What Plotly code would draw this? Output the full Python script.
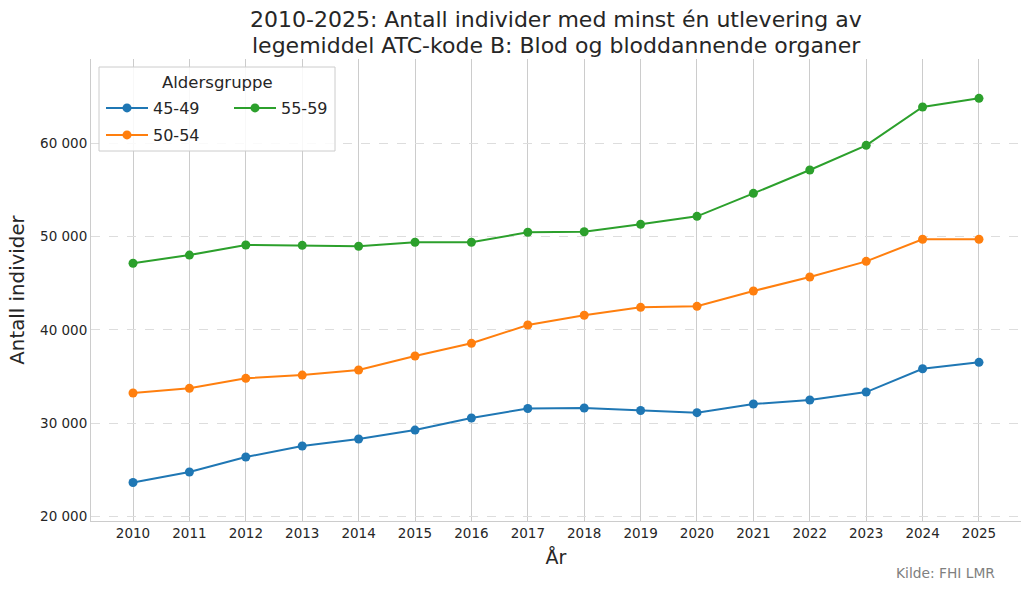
import plotly.graph_objects as go

years = list(range(2010, 2026))
serie_45_49 = [23640, 24770, 26370, 27550, 28300, 29260, 30550, 31570, 31620, 31350, 31120, 32050, 32480, 33330, 35830, 36510]
serie_50_54 = [33230, 33730, 34800, 35150, 35690, 37190, 38550, 40510, 41550, 42400, 42510, 44150, 45650, 47330, 49690, 49690]
serie_55_59 = [47120, 48000, 49080, 49040, 48940, 49370, 49370, 50440, 50500, 51290, 52150, 54610, 57110, 59750, 63860, 64790]
ytick_vals = [20000, 30000, 40000, 50000, 60000]
ytick_text = ["20 000", "30 000", "40 000", "50 000", "60 000"]
title_lines = [
    "2010-2025: Antall individer med minst én utlevering av",
    "legemiddel ATC-kode B: Blod og bloddannende organer",
]

FONT = "DejaVu Sans"
TXT = "#262626"

fig = go.Figure()
series = [
    ("45-49", serie_45_49, "#1f77b4", "legend"),
    ("50-54", serie_50_54, "#ff7f0e", "legend3"),
    ("55-59", serie_55_59, "#2ca02c", "legend2"),
]
for name, vals, col, lg in series:
    fig.add_trace(go.Scatter(
        x=years, y=vals, name=name, mode="lines+markers",
        line=dict(color=col, width=2),
        marker=dict(color=col, size=9),
        legend=lg,
    ))

W, H = 1030, 591
L, R, T, B = 91, 9, 59, 70
pw, ph = W - L - R, H - T - B

def px(x):
    return (x - L) / pw

def py(y):
    return (H - B - y) / ph

leg_common = dict(
    bgcolor="rgba(0,0,0,0)", borderwidth=0,
    font=dict(family=FONT, size=16, color=TXT),
    xanchor="left", yanchor="middle", itemwidth=42,
)

fig.update_layout(
    width=W, height=H,
    margin=dict(l=L, r=R, t=T, b=B),
    paper_bgcolor="white", plot_bgcolor="white",
    font=dict(family=FONT, color=TXT),
    xaxis=dict(
        range=[2009.255, 2025.745],
        tickmode="array", tickvals=years, ticktext=[str(y) for y in years],
        tickfont=dict(family=FONT, size=13.5, color=TXT),
        showgrid=True, gridcolor="#cccccc", gridwidth=1,
        showline=True, linecolor="#cccccc", linewidth=1,
        ticks="", zeroline=False,
        title=dict(text="År", font=dict(family=FONT, size=19, color=TXT), standoff=10),
    ),
    yaxis=dict(
        range=[19520, 69000],
        tickmode="array", tickvals=ytick_vals, ticktext=ytick_text,
        tickfont=dict(family=FONT, size=13.5, color=TXT),
        showgrid=True, gridcolor="#dddddd", gridwidth=1, griddash="dash",
        showline=True, linecolor="#cccccc", linewidth=1,
        ticks="", zeroline=False,
        title=dict(text="Antall individer", font=dict(family=FONT, size=19.8, color=TXT), standoff=10),
    ),
    legend=dict(x=px(101), y=py(108), **leg_common),
    legend2=dict(x=px(229), y=py(108), **leg_common),
    legend3=dict(x=px(101), y=py(135), **leg_common),
    showlegend=True,
)

for line_text, ycen in zip(title_lines, [20, 46]):
    fig.add_annotation(
        text=line_text, xref="paper", yref="paper",
        x=px(556), y=py(ycen), xanchor="center", yanchor="middle",
        borderpad=0,
        showarrow=False, font=dict(family=FONT, size=22, color=TXT),
    )

fig.add_shape(
    type="rect", xref="paper", yref="paper",
    x0=px(99), x1=px(335), y0=py(151), y1=py(67),
    line=dict(color="#cccccc", width=1), fillcolor="rgba(255,255,255,0.85)",
    layer="above",
)
fig.add_annotation(
    text="Aldersgruppe", xref="paper", yref="paper",
    x=px(217), y=py(82), xanchor="center", yanchor="middle",
    showarrow=False, font=dict(family=FONT, size=16.5, color=TXT),
)
fig.add_annotation(
    text="Kilde: FHI LMR", xref="paper", yref="paper",
    x=px(997), y=py(573), xanchor="right", yanchor="middle",
    showarrow=False, font=dict(family=FONT, size=13.8, color="#808080"),
)

fig.write_html(
    "out.html",
    config={"displayModeBar": False},
    post_script="document.body.style.margin='0';document.body.style.overflow='hidden';",
)
